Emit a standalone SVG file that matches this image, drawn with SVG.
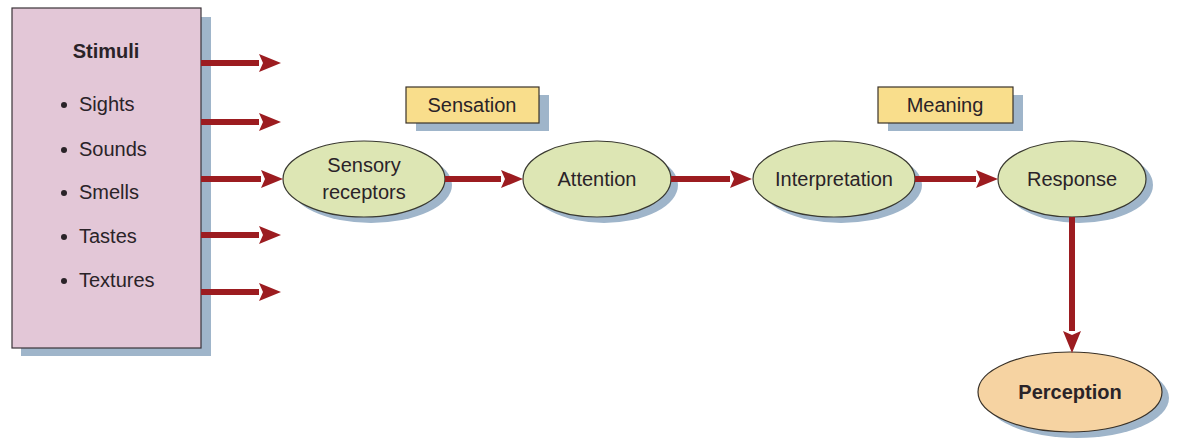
<svg xmlns="http://www.w3.org/2000/svg" width="1181" height="439" viewBox="0 0 1181 439">
<style>
text{font-family:"Liberation Sans",Arial,sans-serif;font-size:20px;fill:#2a2328}
.c{text-anchor:middle}
.b{font-weight:bold}
.sh{fill:#9fb5ca}
.ov{fill:#dde6b4;stroke:#3a3a30;stroke-width:1.2}
.tag{fill:#f9de8c;stroke:#3a3228;stroke-width:1.2}
.ar{stroke:#9c1c20;stroke-width:6;fill:none;marker-end:url(#ah)}
</style>
<defs>
<marker id="ah" markerUnits="userSpaceOnUse" markerWidth="22" markerHeight="18" refX="0" refY="9" orient="auto">
<path d="M0,0 L22,9 L0,18 L4,9 Z" fill="#9c1c20"/>
</marker>
</defs>
<rect width="1181" height="439" fill="#ffffff"/>
<g id="stimuli">
<rect class="sh" x="21" y="17" width="190" height="339"/>
<rect x="12" y="8" width="189" height="340" fill="#e3c7d7" stroke="#3a3238" stroke-width="1.2"/>
<text class="c b" x="106" y="58" font-size="19">Stimuli</text>
<circle cx="64" cy="105" r="3" fill="#2a2328"/><text x="79" y="111">Sights</text>
<circle cx="64" cy="150" r="3" fill="#2a2328"/><text x="79" y="156">Sounds</text>
<circle cx="64" cy="193" r="3" fill="#2a2328"/><text x="79" y="199">Smells</text>
<circle cx="64" cy="237" r="3" fill="#2a2328"/><text x="79" y="243">Tastes</text>
<circle cx="64" cy="281" r="3" fill="#2a2328"/><text x="79" y="287">Textures</text>
</g>
<g id="sensation">
<rect class="sh" x="416" y="95" width="133" height="36"/>
<rect class="tag" x="406" y="87" width="133" height="36"/>
<text class="c" x="472" y="112">Sensation</text>
</g>
<g id="meaning">
<rect class="sh" x="888" y="95" width="135" height="36"/>
<rect class="tag" x="878" y="87" width="135" height="36"/>
<text class="c" x="945" y="112">Meaning</text>
</g>
<g id="sensory-receptors">
<ellipse class="sh" cx="371" cy="185" rx="81" ry="38"/>
<ellipse class="ov" cx="364" cy="179" rx="81" ry="38"/>
<text class="c" x="364" y="172">Sensory</text>
<text class="c" x="364" y="199">receptors</text>
</g>
<g id="attention">
<ellipse class="sh" cx="604" cy="185" rx="74" ry="38"/>
<ellipse class="ov" cx="597" cy="179" rx="74" ry="38"/>
<text class="c" x="597" y="186">Attention</text>
</g>
<g id="interpretation">
<ellipse class="sh" cx="841" cy="185" rx="81" ry="38"/>
<ellipse class="ov" cx="834" cy="179" rx="81" ry="38"/>
<text class="c" x="834" y="186">Interpretation</text>
</g>
<g id="response">
<ellipse class="sh" cx="1079" cy="185" rx="74" ry="38"/>
<ellipse class="ov" cx="1072" cy="179" rx="74" ry="38"/>
<text class="c" x="1072" y="186">Response</text>
</g>
<g id="perception">
<ellipse class="sh" cx="1077" cy="398" rx="92" ry="40"/>
<ellipse cx="1070" cy="392" rx="92" ry="40" fill="#f6d3a2" stroke="#3a3228" stroke-width="1.2"/>
<text class="c b" x="1070" y="399">Perception</text>
</g>
<g id="connectors">
<line class="ar" x1="201" y1="63" x2="259" y2="63"/>
<line class="ar" x1="201" y1="122" x2="259" y2="122"/>
<line class="ar" x1="201" y1="179" x2="261" y2="179"/>
<line class="ar" x1="201" y1="235" x2="259" y2="235"/>
<line class="ar" x1="201" y1="292" x2="259" y2="292"/>
<line class="ar" x1="445" y1="179" x2="501" y2="179"/>
<line class="ar" x1="671" y1="179" x2="730" y2="179"/>
<line class="ar" x1="915" y1="179" x2="976" y2="179"/>
<line class="ar" x1="1072" y1="217" x2="1072" y2="331"/>
</g>
</svg>
